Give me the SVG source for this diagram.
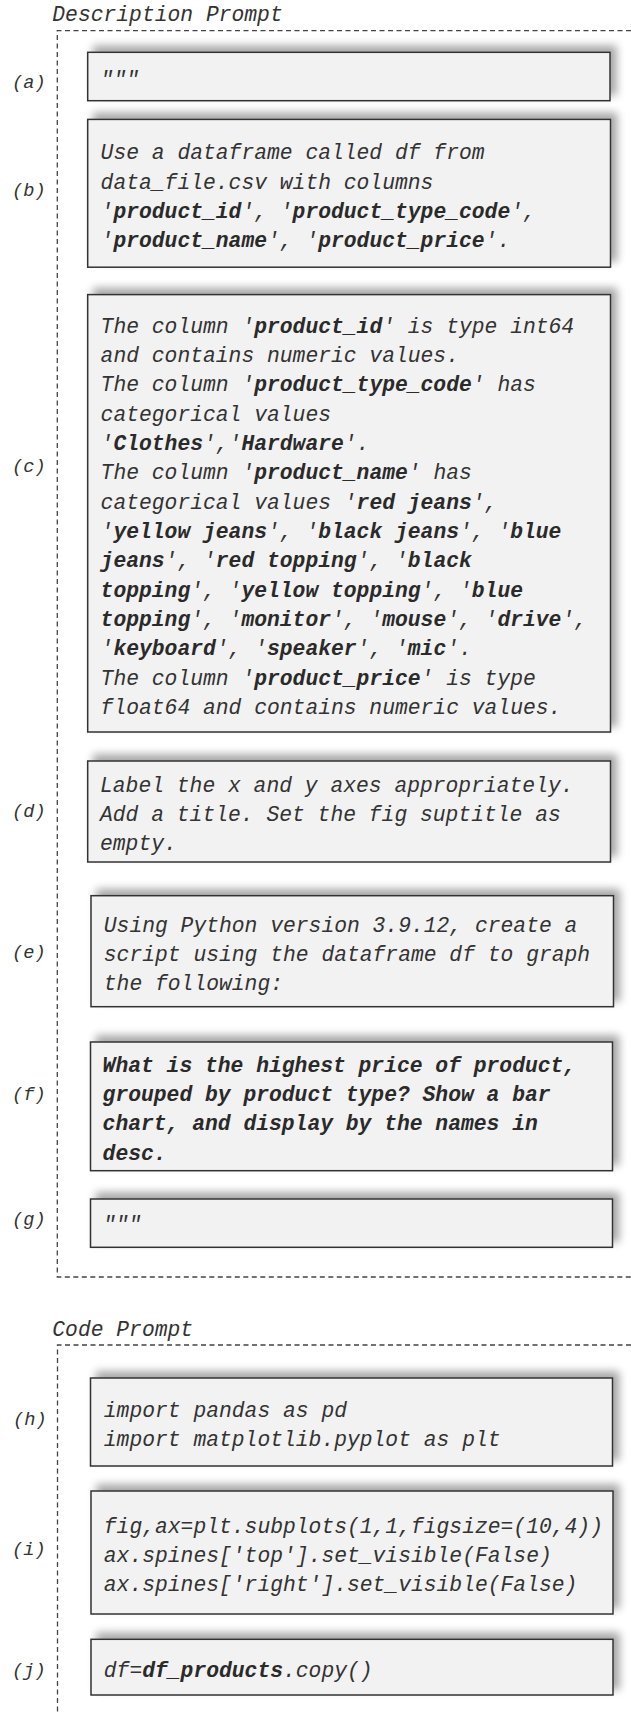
<svg xmlns="http://www.w3.org/2000/svg" width="631" height="1715" viewBox="0 0 631 1715">
<style>
text{font-family:"Liberation Mono","DejaVu Sans Mono",monospace;font-style:italic;fill:#333;}
.t{font-size:21.33px;}
.lbl{font-size:18.67px;}
.b{font-weight:bold;fill:#2a2a2a;}
.box{fill:#f2f2f2;stroke:#333;stroke-width:1.5;filter:url(#sh);}
.frame{fill:none;stroke:#444;stroke-width:1.3;stroke-dasharray:5,3.5;}
</style>
<defs>
<filter id="sh" x="-0.1" y="-0.4" width="1.2" height="1.8">
<feGaussianBlur in="SourceAlpha" stdDeviation="4"/>
<feOffset dx="6" dy="-6" result="o"/>
<feComponentTransfer><feFuncA type="linear" slope="0.35"/></feComponentTransfer>
<feMerge><feMergeNode/><feMergeNode in="SourceGraphic"/></feMerge>
</filter>
</defs>
<g id="connectors">
<path class="frame" d="M631,30.7 H57.3 V1277 H631"/>
<path class="frame" d="M631,1345 H57.5 V1715"/>
</g>
<g id="titles">
<text class="t" x="52.3" y="21">Description Prompt</text>
<text class="t" x="52.3" y="1336">Code Prompt</text>
</g>
<g id="node-a">
<rect class="box" x="87.7" y="52.3" width="522.3" height="48.4"/>
<text class="lbl" x="12" y="87.5">(a)</text>
<text class="t" x="100.6" y="85.5">"""</text>
</g>
<g id="node-b">
<rect class="box" x="87.7" y="119.4" width="522.8" height="147.8"/>
<text class="lbl" x="12" y="195.5">(b)</text>
<text class="t" x="100.6" y="159.3">Use a dataframe called df from</text>
<text class="t" x="100.6" y="188.6">data_file.csv with columns</text>
<text class="t" x="100.6" y="218">'<tspan class="b">product_id</tspan>', '<tspan class="b">product_type_code</tspan>',</text>
<text class="t" x="100.6" y="247.3">'<tspan class="b">product_name</tspan>', '<tspan class="b">product_price</tspan>'.</text>
</g>
<g id="node-c">
<rect class="box" x="87.7" y="294.6" width="522.8" height="437.4"/>
<text class="lbl" x="12" y="472">(c)</text>
<text class="t" x="100.6" y="332.7">The column '<tspan class="b">product_id</tspan>' is type int64</text>
<text class="t" x="100.6" y="362">and contains numeric values.</text>
<text class="t" x="100.6" y="391.4">The column '<tspan class="b">product_type_code</tspan>' has</text>
<text class="t" x="100.6" y="420.7">categorical values</text>
<text class="t" x="100.6" y="450">'<tspan class="b">Clothes</tspan>','<tspan class="b">Hardware</tspan>'.</text>
<text class="t" x="100.6" y="479.4">The column '<tspan class="b">product_name</tspan>' has</text>
<text class="t" x="100.6" y="508.7">categorical values '<tspan class="b">red jeans</tspan>',</text>
<text class="t" x="100.6" y="538">'<tspan class="b">yellow jeans</tspan>', '<tspan class="b">black jeans</tspan>', '<tspan class="b">blue</tspan></text>
<text class="t" x="100.6" y="567.3"><tspan class="b">jeans</tspan>', '<tspan class="b">red topping</tspan>', '<tspan class="b">black</tspan></text>
<text class="t" x="100.6" y="596.7"><tspan class="b">topping</tspan>', '<tspan class="b">yellow topping</tspan>', '<tspan class="b">blue</tspan></text>
<text class="t" x="100.6" y="626"><tspan class="b">topping</tspan>', '<tspan class="b">monitor</tspan>', '<tspan class="b">mouse</tspan>', '<tspan class="b">drive</tspan>',</text>
<text class="t" x="100.6" y="655.3">'<tspan class="b">keyboard</tspan>', '<tspan class="b">speaker</tspan>', '<tspan class="b">mic</tspan>'.</text>
<text class="t" x="100.6" y="684.7">The column '<tspan class="b">product_price</tspan>' is type</text>
<text class="t" x="100.6" y="714">float64 and contains numeric values.</text>
</g>
<g id="node-d">
<rect class="box" x="87.7" y="761" width="522.8" height="101"/>
<text class="lbl" x="12" y="817">(d)</text>
<text class="t" x="100" y="791.7">Label the x and y axes appropriately.</text>
<text class="t" x="100" y="821">Add a title. Set the fig suptitle as</text>
<text class="t" x="100" y="850.3">empty.</text>
</g>
<g id="node-e">
<rect class="box" x="91" y="895.7" width="522.5" height="111"/>
<text class="lbl" x="12" y="958">(e)</text>
<text class="t" x="103.8" y="931.7">Using Python version 3.9.12, create a</text>
<text class="t" x="103.8" y="961">script using the dataframe df to graph</text>
<text class="t" x="103.8" y="990.3">the following:</text>
</g>
<g id="node-f">
<rect class="box" x="90.5" y="1042" width="522" height="128.7"/>
<text class="lbl" x="12" y="1099.5">(f)</text>
<text class="t b" x="102.6" y="1071.7">What is the highest price of product,</text>
<text class="t b" x="102.6" y="1101">grouped by product type? Show a bar</text>
<text class="t b" x="102.6" y="1130.3">chart, and display by the names in</text>
<text class="t b" x="102.6" y="1159.7">desc.</text>
</g>
<g id="node-g">
<rect class="box" x="90.5" y="1199" width="522" height="48.3"/>
<text class="lbl" x="12" y="1224.5">(g)</text>
<text class="t" x="103" y="1231">"""</text>
</g>
<g id="node-h">
<rect class="box" x="90.5" y="1378" width="522" height="88"/>
<text class="lbl" x="13" y="1425">(h)</text>
<text class="t" x="103.8" y="1416.7">import pandas as pd</text>
<text class="t" x="103.8" y="1446">import matplotlib.pyplot as plt</text>
</g>
<g id="node-i">
<rect class="box" x="91" y="1491" width="522" height="123"/>
<text class="lbl" x="12" y="1555">(i)</text>
<text class="t" x="103.8" y="1532.7">fig,ax=plt.subplots(1,1,figsize=(10,4))</text>
<text class="t" x="103.8" y="1562">ax.spines['top'].set_visible(False)</text>
<text class="t" x="103.8" y="1591.3">ax.spines['right'].set_visible(False)</text>
</g>
<g id="node-j">
<rect class="box" x="91" y="1639.3" width="522" height="55.7"/>
<text class="lbl" x="12" y="1676">(j)</text>
<text class="t" x="103.8" y="1676.7">df=<tspan class="b">df_products</tspan>.copy()</text>
</g>
</svg>
